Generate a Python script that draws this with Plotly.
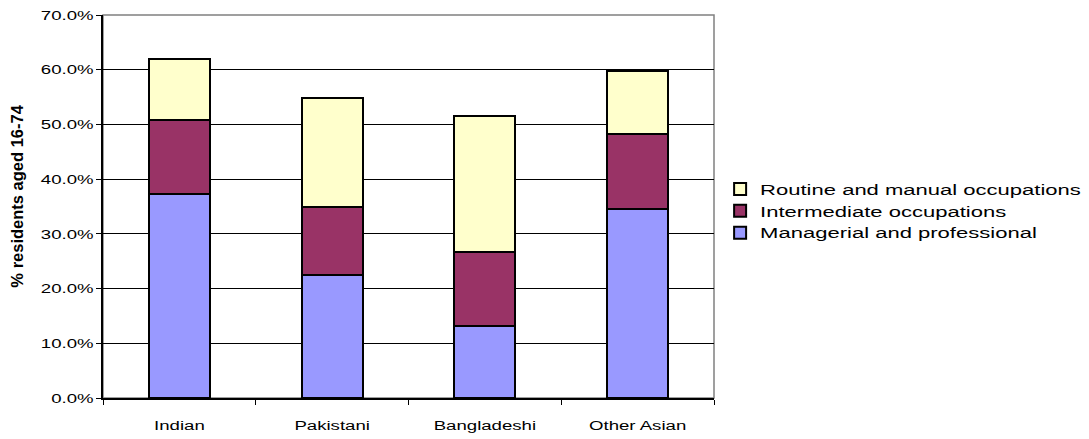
import plotly.graph_objects as go

groups = ["Indian", "Pakistani", "Bangladeshi", "Other Asian"]
managerial = [37.2, 22.4, 13.2, 34.6]
intermediate = [13.6, 12.6, 13.4, 13.6]
routine = [11.2, 19.9, 24.9, 11.5]

series = [
    ("Managerial and professional", managerial, "#9999FF"),
    ("Intermediate occupations", intermediate, "#993366"),
    ("Routine and manual occupations", routine, "#FFFFCC"),
]

FONT = "Liberation Sans, Arial, sans-serif"

fig = go.Figure()
for name, vals, color in series:
    fig.add_trace(go.Bar(
        x=groups, y=vals, name=name,
        marker=dict(color=color, line=dict(color="black", width=2)),
    ))

fig.update_layout(
    barmode="stack",
    bargap=0.6,
    width=1089, height=439,
    margin=dict(l=103, r=375, t=15, b=41, autoexpand=False),
    paper_bgcolor="white", plot_bgcolor="white",
    font=dict(family=FONT, size=13.5, color="black"),
    showlegend=True,
    legend=dict(
        x=1.01, y=0.488, xanchor="left", yanchor="middle",
        traceorder="reversed",
        font=dict(size=14.5),
        itemwidth=30,
        tracegroupgap=0,
        bgcolor="rgba(0,0,0,0)",
    ),
    shapes=[dict(type="rect", xref="paper", yref="paper", x0=0, y0=0, x1=1, y1=1,
                 line=dict(color="#808080", width=1.5), layer="below")],
    annotations=[dict(
        text="<b>% residents aged 16-74</b>", xref="paper", yref="paper",
        x=-0.141, y=0.528, xanchor="center", yanchor="middle",
        textangle=-90, showarrow=False, font=dict(size=16.5),
    )],
)

fig.update_yaxes(
    range=[0, 70], dtick=10, ticksuffix="%", tickformat=".1f",
    showgrid=True, gridcolor="black", gridwidth=1,
    showline=True, linecolor="black", linewidth=1.5,
    ticks="outside", ticklen=5, tickcolor="black",
    zeroline=False, automargin=False,
)
fig.update_xaxes(
    showline=True, linecolor="black", linewidth=1.5,
    ticks="outside", ticklen=5, tickcolor="black", tickson="boundaries",
    ticklabelstandoff=14, automargin=False,
)

# Widen tick and legend labels horizontally around their anchor points,
# and let the legend labels extend past the legend's clip box
widen_text = """
var gd = document.getElementById('{plot_id}');
function widen(sel, k) {
  gd.querySelectorAll(sel).forEach(function (t) {
    var x = parseFloat(t.getAttribute('x')) || 0;
    var tr = t.getAttribute('transform') || '';
    t.setAttribute('transform', tr + ' translate(' + x + ',0) scale(' + k + ',1) translate(' + (-x) + ',0)');
  });
}
widen('g.xtick > text', 1.38);
widen('g.ytick > text', 1.38);
widen('text.legendtext', 1.52);
gd.querySelectorAll('g.legend, g.legend .scrollbox').forEach(function (g) {
  g.removeAttribute('clip-path');
});
"""

fig.write_html("out.html", post_script=widen_text)
